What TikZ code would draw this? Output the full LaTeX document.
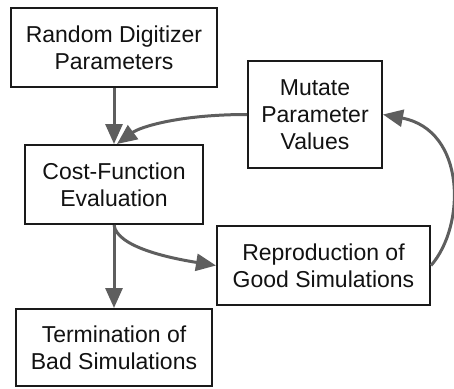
\documentclass[tikz,border=0pt]{standalone}
\usepackage{fontspec}
\setmainfont{Liberation Sans}
\usetikzlibrary{arrows.meta}
\definecolor{linkgray}{HTML}{5E5E5E}
\definecolor{boxline}{HTML}{1A1A1A}
\tikzset{
  stepbox/.style={draw=boxline, line width=2pt, fill=white, align=center,
    inner sep=0pt, text=black!93,
    font=\fontsize{23}{27}\selectfont},
  link/.style={draw=linkgray, line width=3pt,
    -{Triangle[length=20pt 0 0,width=17pt 0 0]}},
}
\begin{document}
\begin{tikzpicture}[x=1pt,y=-1pt]
  \useasboundingbox (0,0) rectangle (454,388);
  % process boxes
  \node[stepbox, minimum width=206pt, minimum height=79pt] (rand) at (114,47.5)
    {Random Digitizer\\Parameters};
  \node[stepbox, minimum width=178pt, minimum height=79pt] (cost) at (114,184.5)
    {Cost-Function\\Evaluation};
  \node[stepbox, minimum width=134pt, minimum height=107pt] (mut) at (315,114.5)
    {Mutate\\Parameter\\Values};
  \node[stepbox, minimum width=213pt, minimum height=79pt] (repro) at (323.5,265.5)
    {Reproduction of\\Good Simulations};
  \node[stepbox, minimum width=196pt, minimum height=77pt] (term) at (114,347.5)
    {Termination of\\Bad Simulations};
  % connectors
  \coordinate (costin) at ([xshift=3pt]cost.north);
  \draw[link] (rand.south) -- (cost.north);
  \draw[link] (mut.west) .. controls +(-68,0) and +(23,-17) .. (costin);
  \draw[link] (cost.south) .. controls +(3,22) and +(-47,-7.5) .. (repro.west);
  \draw[link] (cost.south) -- (term.north);
  \draw[link] (repro.east) .. controls +(35,-40) and +(83,15.5) .. (mut.east);
\end{tikzpicture}
\end{document}
